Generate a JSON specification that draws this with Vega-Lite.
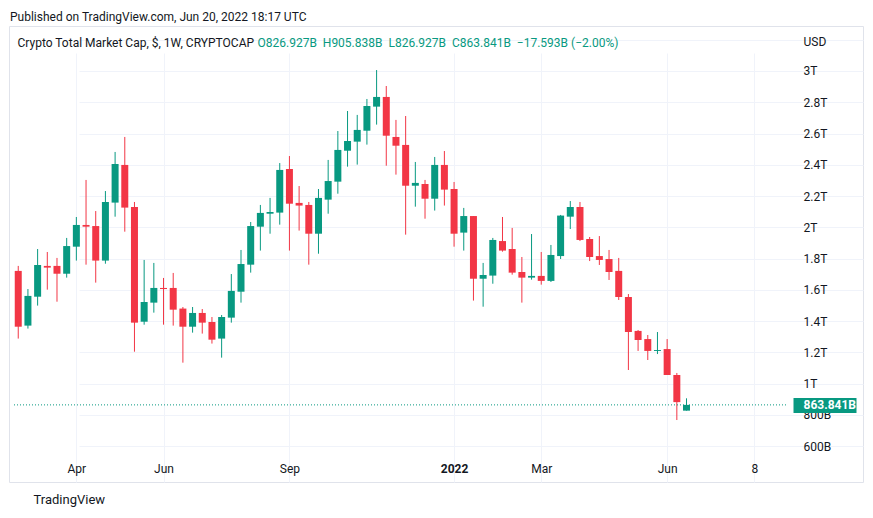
{
  "$schema": "https://vega.github.io/schema/vega-lite/v6.json",
  "width": 854,
  "height": 456,
  "autosize": {"type": "none"},
  "padding": {"left": 9, "top": 26, "right": 10, "bottom": 36},
  "background": "#ffffff",
  "title": {
    "text": "Published on TradingView.com, Jun 20, 2022 18:17 UTC",
    "anchor": "start",
    "frame": "group",
    "fontSize": 12,
    "fontWeight": "normal",
    "font": "Roboto",
    "color": "#131722",
    "offset": 3,
    "dx": 1,
    "dy": 1
  },
  "config": {
    "font": "Roboto",
    "view": {"stroke": "#e0e3eb", "strokeWidth": 1},
    "axis": {
      "labelFont": "Roboto",
      "titleFont": "Roboto",
      "labelColor": "#131722",
      "titleColor": "#131722",
      "labelFontSize": 12,
      "titleFontSize": 12,
      "titleFontWeight": "normal",
      "gridColor": "#f0f3fa",
      "gridWidth": 1,
      "domain": false,
      "ticks": false
    }
  },
  "datasets": {
    "candles": [
      {"date": "2021-02-22", "open": 1721, "high": 1753, "low": 1288, "close": 1364},
      {"date": "2021-03-01", "open": 1371, "high": 1605, "low": 1352, "close": 1561},
      {"date": "2021-03-08", "open": 1556, "high": 1861, "low": 1499, "close": 1759},
      {"date": "2021-03-15", "open": 1753, "high": 1842, "low": 1601, "close": 1742},
      {"date": "2021-03-22", "open": 1753, "high": 1804, "low": 1524, "close": 1703},
      {"date": "2021-03-29", "open": 1703, "high": 1932, "low": 1678, "close": 1880},
      {"date": "2021-04-05", "open": 1876, "high": 2066, "low": 1787, "close": 2015},
      {"date": "2021-04-12", "open": 2015, "high": 2303, "low": 1761, "close": 2004},
      {"date": "2021-04-19", "open": 2008, "high": 2104, "low": 1646, "close": 1787},
      {"date": "2021-04-26", "open": 1787, "high": 2232, "low": 1767, "close": 2162},
      {"date": "2021-05-03", "open": 2158, "high": 2482, "low": 2068, "close": 2405},
      {"date": "2021-05-10", "open": 2399, "high": 2578, "low": 1972, "close": 2126},
      {"date": "2021-05-17", "open": 2130, "high": 2162, "low": 1204, "close": 1390},
      {"date": "2021-05-24", "open": 1396, "high": 1791, "low": 1377, "close": 1522},
      {"date": "2021-05-31", "open": 1518, "high": 1772, "low": 1454, "close": 1612},
      {"date": "2021-06-07", "open": 1612, "high": 1676, "low": 1377, "close": 1605},
      {"date": "2021-06-14", "open": 1612, "high": 1708, "low": 1371, "close": 1473},
      {"date": "2021-06-21", "open": 1480, "high": 1490, "low": 1134, "close": 1364},
      {"date": "2021-06-28", "open": 1364, "high": 1490, "low": 1326, "close": 1452},
      {"date": "2021-07-05", "open": 1452, "high": 1477, "low": 1320, "close": 1390},
      {"date": "2021-07-12", "open": 1394, "high": 1426, "low": 1256, "close": 1281},
      {"date": "2021-07-19", "open": 1288, "high": 1439, "low": 1166, "close": 1426},
      {"date": "2021-07-26", "open": 1422, "high": 1701, "low": 1390, "close": 1593},
      {"date": "2021-08-02", "open": 1588, "high": 1855, "low": 1518, "close": 1765},
      {"date": "2021-08-09", "open": 1761, "high": 2034, "low": 1710, "close": 2008},
      {"date": "2021-08-16", "open": 2004, "high": 2143, "low": 1851, "close": 2092},
      {"date": "2021-08-23", "open": 2087, "high": 2188, "low": 1959, "close": 2098},
      {"date": "2021-08-30", "open": 2094, "high": 2411, "low": 2017, "close": 2367},
      {"date": "2021-09-06", "open": 2373, "high": 2456, "low": 1851, "close": 2151},
      {"date": "2021-09-13", "open": 2156, "high": 2264, "low": 1979, "close": 2139},
      {"date": "2021-09-20", "open": 2143, "high": 2162, "low": 1761, "close": 1959},
      {"date": "2021-09-27", "open": 1959, "high": 2245, "low": 1831, "close": 2188},
      {"date": "2021-10-04", "open": 2177, "high": 2431, "low": 2087, "close": 2296},
      {"date": "2021-10-11", "open": 2292, "high": 2616, "low": 2215, "close": 2495},
      {"date": "2021-10-18", "open": 2490, "high": 2744, "low": 2388, "close": 2552},
      {"date": "2021-10-25", "open": 2548, "high": 2719, "low": 2401, "close": 2623},
      {"date": "2021-11-01", "open": 2618, "high": 2821, "low": 2529, "close": 2776},
      {"date": "2021-11-08", "open": 2772, "high": 3006, "low": 2657, "close": 2834},
      {"date": "2021-11-15", "open": 2834, "high": 2904, "low": 2394, "close": 2586},
      {"date": "2021-11-22", "open": 2578, "high": 2687, "low": 2337, "close": 2522},
      {"date": "2021-11-29", "open": 2527, "high": 2712, "low": 1953, "close": 2266},
      {"date": "2021-12-06", "open": 2266, "high": 2418, "low": 2132, "close": 2284},
      {"date": "2021-12-13", "open": 2277, "high": 2303, "low": 2055, "close": 2183},
      {"date": "2021-12-20", "open": 2183, "high": 2450, "low": 2107, "close": 2399},
      {"date": "2021-12-27", "open": 2399, "high": 2488, "low": 2139, "close": 2241},
      {"date": "2022-01-03", "open": 2245, "high": 2290, "low": 1876, "close": 1959},
      {"date": "2022-01-10", "open": 1966, "high": 2124, "low": 1851, "close": 2072},
      {"date": "2022-01-17", "open": 2072, "high": 2072, "low": 1531, "close": 1671},
      {"date": "2022-01-24", "open": 1671, "high": 1772, "low": 1492, "close": 1695},
      {"date": "2022-01-31", "open": 1691, "high": 1932, "low": 1639, "close": 1919},
      {"date": "2022-02-07", "open": 1912, "high": 2066, "low": 1844, "close": 1851},
      {"date": "2022-02-14", "open": 1861, "high": 1996, "low": 1697, "close": 1710},
      {"date": "2022-02-21", "open": 1714, "high": 1810, "low": 1518, "close": 1678},
      {"date": "2022-02-28", "open": 1678, "high": 1957, "low": 1665, "close": 1689},
      {"date": "2022-03-07", "open": 1689, "high": 1842, "low": 1633, "close": 1657},
      {"date": "2022-03-14", "open": 1657, "high": 1887, "low": 1650, "close": 1823},
      {"date": "2022-03-21", "open": 1816, "high": 2079, "low": 1797, "close": 2075},
      {"date": "2022-03-28", "open": 2068, "high": 2168, "low": 1989, "close": 2130},
      {"date": "2022-04-04", "open": 2130, "high": 2162, "low": 1912, "close": 1919},
      {"date": "2022-04-11", "open": 1925, "high": 1938, "low": 1784, "close": 1810},
      {"date": "2022-04-18", "open": 1816, "high": 1944, "low": 1759, "close": 1791},
      {"date": "2022-04-25", "open": 1797, "high": 1855, "low": 1663, "close": 1714},
      {"date": "2022-05-02", "open": 1721, "high": 1804, "low": 1535, "close": 1554},
      {"date": "2022-05-09", "open": 1554, "high": 1573, "low": 1087, "close": 1330},
      {"date": "2022-05-16", "open": 1337, "high": 1343, "low": 1209, "close": 1279},
      {"date": "2022-05-23", "open": 1285, "high": 1311, "low": 1151, "close": 1209},
      {"date": "2022-05-30", "open": 1209, "high": 1330, "low": 1189, "close": 1215},
      {"date": "2022-06-06", "open": 1221, "high": 1285, "low": 1055, "close": 1055},
      {"date": "2022-06-13", "open": 1055, "high": 1068, "low": 767, "close": 881.434},
      {"date": "2022-06-20", "open": 826.927, "high": 905.838, "low": 826.927, "close": 863.841}
    ]
  },
  "data": {"name": "candles"},
  "layer": [
    {
      "mark": {"type": "rule", "strokeWidth": 1},
      "encoding": {
        "x": {
          "field": "date",
          "type": "temporal",
          "scale": {
            "type": "utc",
            "domain": [
              {"year": 2021, "month": 2, "date": 18, "hours": 22, "minutes": 19, "utc": true},
              {"year": 2022, "month": 9, "date": 1, "hours": 8, "minutes": 24, "utc": true}
            ],
            "range": [0, 784],
            "nice": false
          },
          "axis": {
            "orient": "bottom",
            "offset": -27,
            "values": [1617580800000, 1623024000000, 1630886400000, 1641168000000, 1646611200000, 1654473600000, 1659916800000],
            "grid": true,
            "tickSize": 0,
            "labelExpr": "utcmonth(datum.value) === 0 ? utcFormat(datum.value, '%Y') : (utcmonth(datum.value) === 7 ? '8' : utcFormat(datum.value, '%b'))",
            "labelFontWeight": {"condition": {"test": "utcmonth(datum.value) === 0", "value": "bold"}, "value": "normal"},
            "labelPadding": 8,
            "labelAlign": "center",
            "labelBaseline": "top",
            "labelFlush": false,
            "labelOverlap": false,
            "title": "TradingView",
            "titleX": 24,
            "titleY": 44,
            "titleAlign": "left",
            "titleBaseline": "middle",
            "titleFontSize": 13
          }
        },
        "y": {
          "field": "low",
          "type": "quantitative",
          "scale": {"domain": [543.2, 3287.9], "range": [429, 0], "nice": false, "zero": false},
          "axis": {
            "orient": "right",
            "offset": -70,
            "values": [600, 800, 1000, 1200, 1400, 1600, 1800, 2000, 2200, 2400, 2600, 2800, 3000, 3200],
            "grid": true,
            "tickSize": 0,
            "labelExpr": "datum.value >= 3200 ? '' : (datum.value >= 1000 ? format(datum.value / 1000, '~g') + 'T' : datum.value + 'B')",
            "labelPadding": 10,
            "labelAlign": "left",
            "labelBaseline": "middle",
            "labelOverlap": false,
            "title": "USD",
            "titleAngle": 0,
            "titleX": 10,
            "titleY": 15,
            "titleAlign": "left",
            "titleBaseline": "middle"
          }
        },
        "y2": {"field": "high"},
        "color": {"condition": {"test": "datum.close >= datum.open", "value": "#089981"}, "value": "#F23645"}
      }
    },
    {
      "mark": {"type": "bar", "size": 7},
      "encoding": {
        "x": {
          "field": "date",
          "type": "temporal",
          "scale": {
            "type": "utc",
            "domain": [
              {"year": 2021, "month": 2, "date": 18, "hours": 22, "minutes": 19, "utc": true},
              {"year": 2022, "month": 9, "date": 1, "hours": 8, "minutes": 24, "utc": true}
            ],
            "range": [0, 784],
            "nice": false
          }
        },
        "y": {
          "field": "open",
          "type": "quantitative",
          "scale": {"domain": [543.2, 3287.9], "range": [429, 0], "nice": false, "zero": false},
          "axis": {
            "orient": "left",
            "labels": false,
            "grid": false,
            "title": "Crypto Total Market Cap, $, 1W, CRYPTOCAP",
            "titleAngle": 0,
            "titleX": 8,
            "titleY": 16,
            "titleAlign": "left",
            "titleBaseline": "middle"
          }
        },
        "y2": {"field": "close"},
        "color": {"condition": {"test": "datum.close >= datum.open", "value": "#089981"}, "value": "#F23645"}
      }
    },
    {
      "data": {"values": [{}]},
      "mark": {"type": "rule", "strokeDash": [1, 2], "color": "#089981", "strokeWidth": 1},
      "encoding": {
        "x": {
          "datum": {"year": 2021, "month": 2, "date": 18, "hours": 22, "minutes": 19, "utc": true},
          "type": "temporal",
          "scale": {
            "type": "utc",
            "domain": [
              {"year": 2021, "month": 2, "date": 18, "hours": 22, "minutes": 19, "utc": true},
              {"year": 2022, "month": 9, "date": 1, "hours": 8, "minutes": 24, "utc": true}
            ],
            "range": [0, 784],
            "nice": false
          }
        },
        "x2": {"datum": {"year": 2022, "month": 9, "date": 1, "hours": 8, "minutes": 24, "utc": true}},
        "y": {
          "datum": 863.841,
          "type": "quantitative",
          "scale": {"domain": [543.2, 3287.9], "range": [429, 0], "nice": false, "zero": false},
          "axis": {
            "orient": "right",
            "offset": -70,
            "values": [863.841],
            "grid": false,
            "domain": false,
            "ticks": true,
            "tickSize": 63,
            "tickWidth": 15,
            "tickColor": "#089981",
            "tickCap": "butt",
            "labelExpr": "'863.841B'",
            "labelColor": "#ffffff",
            "labelFontWeight": "bold",
            "labelPadding": -53,
            "labelAlign": "left",
            "labelBaseline": "middle",
            "labelOverlap": false,
            "zindex": 1,
            "title": "O826.927B\u00a0 H905.838B\u00a0 L826.927B\u00a0 C863.841B\u00a0 −17.593B (−2.00%)",
            "titleColor": "#089981",
            "titleAngle": 0,
            "titleX": -536,
            "titleY": 16,
            "titleAlign": "left",
            "titleBaseline": "middle"
          }
        }
      }
    }
  ],
  "resolve": {"axis": {"y": "independent"}}
}
